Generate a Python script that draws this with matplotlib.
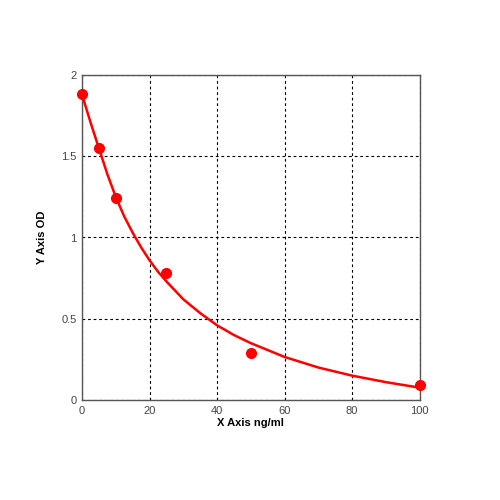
import matplotlib
matplotlib.use("Agg")
import matplotlib.pyplot as plt

# standards
conc = [0, 5, 10, 25, 50, 100]
od = [1.88, 1.55, 1.24, 0.78, 0.29, 0.09]

# fitted curve
curve_x = [0, 2.5, 5, 7.5, 10, 12.5, 15, 17.5, 20, 22.5, 25, 30, 35, 40, 45, 50,
           60, 70, 80, 90, 100]
curve_y = [1.88, 1.71, 1.55, 1.39, 1.25, 1.13, 1.03, 0.94, 0.86, 0.79, 0.73, 0.62,
           0.535, 0.46, 0.40, 0.35, 0.265, 0.20, 0.15, 0.11, 0.076]

xticks = [0, 20, 40, 60, 80, 100]
yticks = [0, 0.5, 1, 1.5, 2]
yticklabels = ["0", "0.5", "1", "1.5", "2"]

plt.rcParams.update({"font.family": "Liberation Sans"})

fig = plt.figure(figsize=(5, 5), dpi=100)
ax = fig.add_axes([0.164, 0.2, 0.675, 0.65])

ax.plot(curve_x, curve_y, color="#ff0000", lw=1.8, zorder=3)
ax.plot(conc, od, "o", color="#ff0000", ms=7, zorder=4, clip_on=False)

ax.set_xlim(0, 100)
ax.set_ylim(0, 2)
ax.set_xticks(xticks)
ax.set_yticks(yticks)
ax.set_yticklabels(yticklabels)
ax.tick_params(length=0, labelsize=8, colors="#444444", pad=4)
ax.grid(True, color="black", ls=(0, (2.5, 2.5)), lw=0.8)
for s in ax.spines.values():
    s.set_color("#555555")
    s.set_linewidth(1)

ax.set_xlabel("X Axis ng/ml", fontsize=8, fontweight="bold", labelpad=2)
ax.set_ylabel("Y Axis OD", fontsize=8, fontweight="bold", labelpad=10)

fig.savefig("out.png", dpi=100)
